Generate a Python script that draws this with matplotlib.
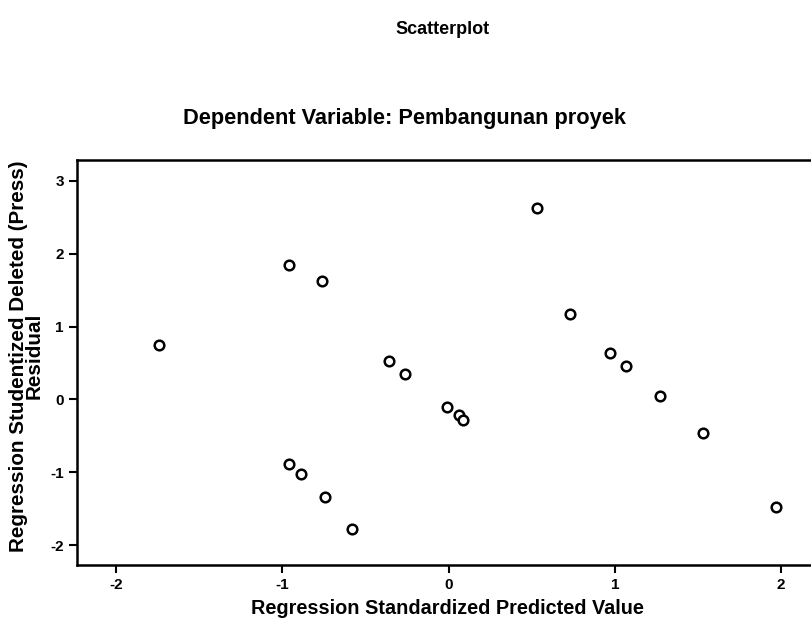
import matplotlib

matplotlib.use("Agg")
import matplotlib.pyplot as plt

# standardized predicted values vs studentized deleted residuals
predicted = [-1.74, -0.96, -0.76, -0.36, -0.26, -0.01, 0.06, 0.09, 0.53, 0.73,
             0.97, 1.07, 1.27, 1.53, 1.97, -0.96, -0.89, -0.74, -0.58]
residual = [0.75, 1.84, 1.62, 0.53, 0.35, -0.10, -0.22, -0.28, 2.63, 1.17,
            0.64, 0.46, 0.05, -0.46, -1.48, -0.88, -1.02, -1.34, -1.77]
x_ticks = [-2, -1, 0, 1, 2]
y_ticks = [-2, -1, 0, 1, 2, 3]

plt.rcParams["font.family"] = ["Liberation Sans", "DejaVu Sans"]
plt.rcParams["font.weight"] = "bold"
plt.rcParams["axes.unicode_minus"] = False

fig = plt.figure(figsize=(8.12, 6.19), dpi=100)
# plot area runs past the right edge of the page, as in the scan
ax = fig.add_axes([0.0948, 0.0872, 0.952, 0.654])
ax.scatter(predicted, residual, s=48, facecolors="white", edgecolors="black", linewidths=1.8)

ax.set_xlim(-2.234, 2.414)
ax.set_ylim(-2.27, 3.28)
ax.set_xticks(x_ticks)
ax.set_yticks(y_ticks)
ax.tick_params(direction="out", length=6, width=1.5, labelsize=11, colors="black")
for spine in ax.spines.values():
    spine.set_linewidth(1.8)
ax.spines["right"].set_visible(False)

ax.set_xlabel("Regression Standardized Predicted Value", fontsize=14.3, fontweight="bold")
ax.xaxis.set_label_coords(0.479, -0.085)
ax.set_ylabel("Regression Studentized Deleted (Press)\nResidual", fontsize=14.9,
              fontweight="bold", linespacing=0.8)
ax.yaxis.set_label_coords(-0.043, 0.516)

fig.text(0.545, 0.953, "Scatterplot", ha="center", va="center", fontsize=13, fontweight="bold")
fig.text(0.498, 0.809, "Dependent Variable: Pembangunan proyek", ha="center", va="center",
         fontsize=15.7, fontweight="bold")

fig.savefig("out.png", dpi=100)
plt.close(fig)
